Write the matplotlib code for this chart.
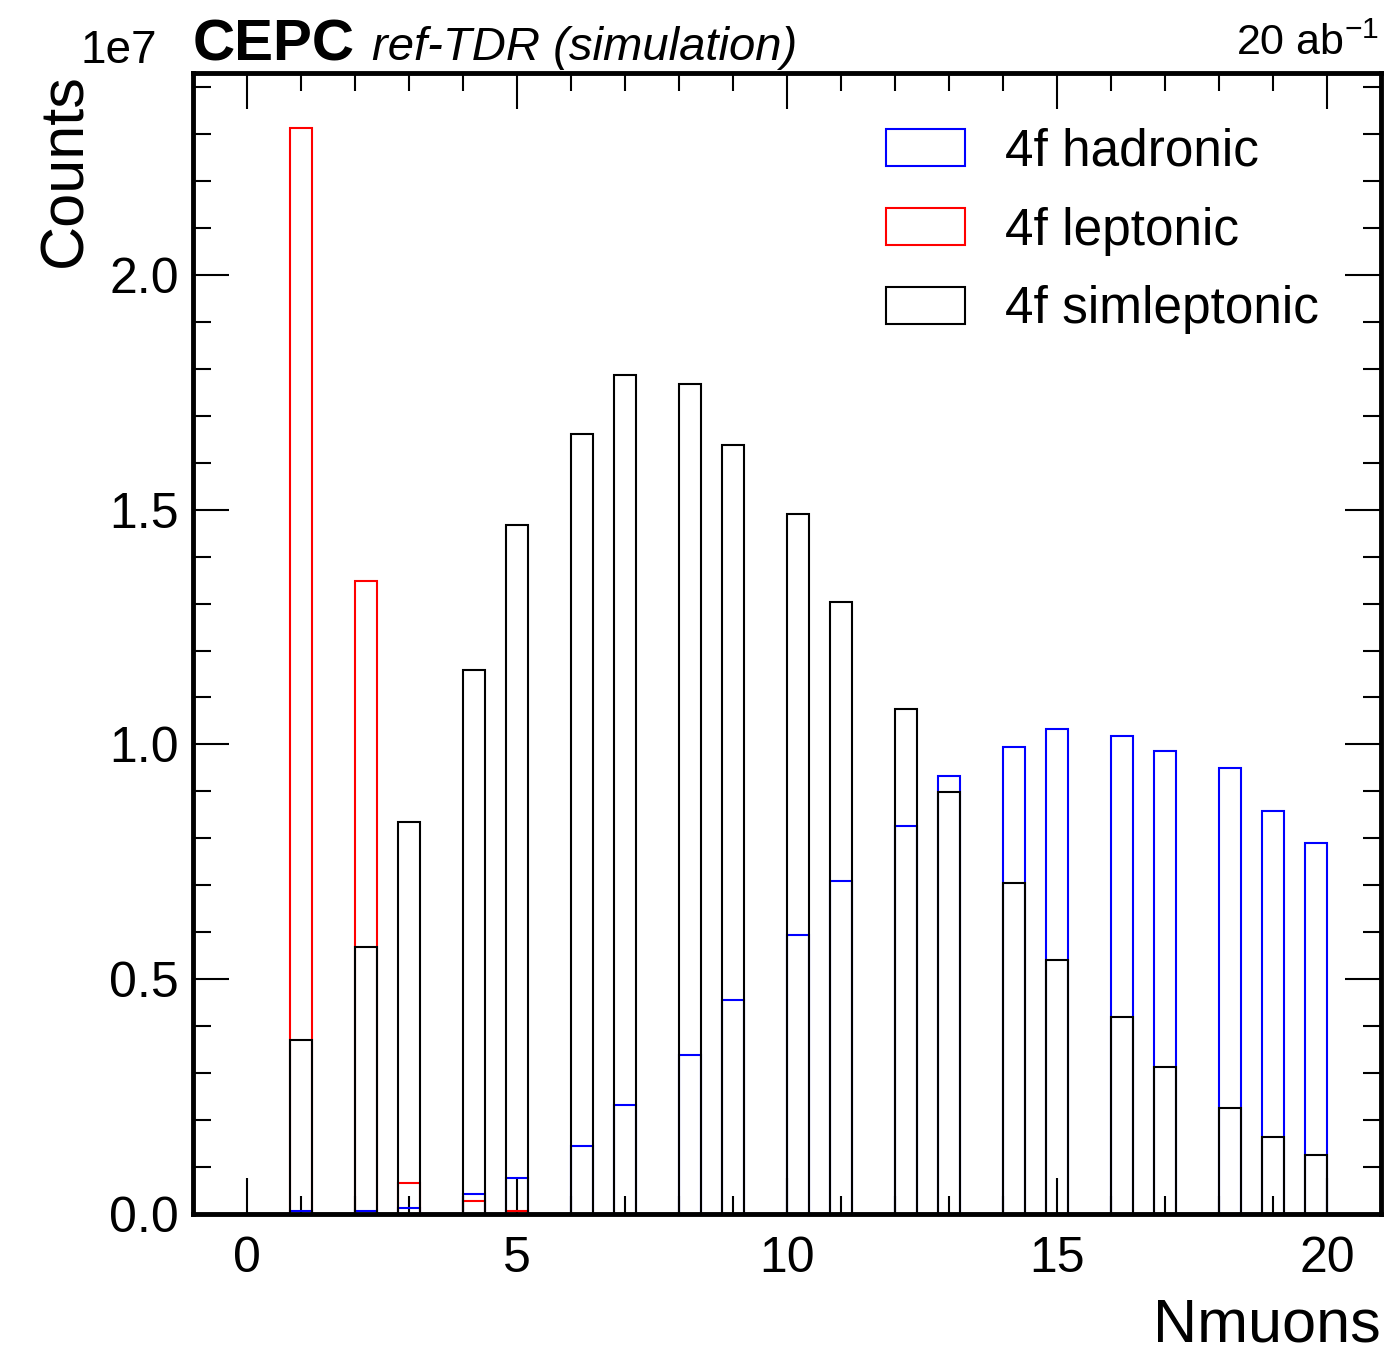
import numpy as np
import matplotlib
matplotlib.use("Agg")
import matplotlib.pyplot as plt
from matplotlib.ticker import MultipleLocator

plt.rcParams['font.family'] = ['Liberation Sans', 'DejaVu Sans']
plt.rcParams['mathtext.fontset'] = 'custom'
plt.rcParams['mathtext.rm'] = 'Liberation Sans'
plt.rcParams['mathtext.it'] = 'Liberation Sans:italic'

# Data: counts per number of muons
nmuons = np.arange(1, 21)
hadronic = [0.006e7, 0.006e7, 0.013e7, 0.042e7, 0.076e7, 0.145e7, 0.232e7, 0.339e7,
            0.456e7, 0.594e7, 0.709e7, 0.826e7, 0.933e7, 0.995e7, 1.033e7, 1.018e7,
            0.986e7, 0.950e7, 0.858e7, 0.790e7]
leptonic = [2.313e7, 1.348e7, 0.067e7, 0.028e7, 0.006e7, 0, 0, 0, 0, 0,
            0, 0, 0, 0, 0, 0, 0, 0, 0, 0]
simleptonic = [0.371e7, 0.569e7, 0.835e7, 1.159e7, 1.468e7, 1.661e7, 1.787e7, 1.768e7,
               1.638e7, 1.491e7, 1.304e7, 1.076e7, 0.899e7, 0.705e7, 0.541e7, 0.420e7,
               0.313e7, 0.226e7, 0.164e7, 0.126e7]
labels = ['4f hadronic', '4f leptonic', '4f simleptonic']
colors = ['blue', 'red', 'black']

bins = np.linspace(0, 20, 51)

fig = plt.figure(figsize=(13.84, 13.52), dpi=100)
ax = fig.add_axes([193/1384, 1 - 1214/1352, (1381 - 193)/1384, (1214 - 73)/1352])

for series, lab, col in zip([hadronic, leptonic, simleptonic], labels, colors):
    ax.hist(nmuons, bins=bins, weights=series, histtype='step', color=col,
            linewidth=1.5, label=lab)

ax.set_xlim(-1, 21)
ax.set_ylim(0, 2.43e7)

ax.xaxis.set_major_locator(MultipleLocator(5))
ax.xaxis.set_minor_locator(MultipleLocator(1))
ax.yaxis.set_major_locator(MultipleLocator(0.5e7))
ax.yaxis.set_minor_locator(MultipleLocator(0.1e7))
ax.tick_params(which='both', direction='in', top=True, right=True, width=1.5)
ax.tick_params(which='major', length=26, labelsize=36)
ax.tick_params(which='minor', length=13)
ax.tick_params(axis='x', which='major', pad=16)
ax.tick_params(axis='y', which='major', pad=10)
for sp in ax.spines.values():
    sp.set_linewidth(3.5)

# offset text "1e7" up-left of the axes
ax.yaxis.OFFSETTEXTPAD = 7.5
ax.yaxis.offsetText.set_fontsize(33)
ax.yaxis.offsetText.set_ha('right')
ax.yaxis.offsetText.set_x(-0.03)

ax.set_xlabel('Nmuons', fontsize=44, loc='right', labelpad=11)
ax.set_ylabel('Counts', fontsize=44, loc='top', labelpad=11)

ax.text(0.0, 1.011, 'CEPC', transform=ax.transAxes, fontsize=42,
        fontweight='bold', ha='left', va='baseline')
ax.text(0.1507, 1.011, 'ref-TDR (simulation)', transform=ax.transAxes,
        fontsize=34, style='italic', ha='left', va='baseline')
ax.text(0.998, 1.016, r'20 ab$^{-1}$', transform=ax.transAxes, fontsize=31,
        ha='right', va='baseline')

ax.legend(loc='upper left', bbox_to_anchor=(0.583, 0.952), frameon=False,
          fontsize=37, handlelength=1.54, handleheight=0.74, handletextpad=0.78,
          labelspacing=0.58, borderpad=0, borderaxespad=0)

fig.savefig('out.png', dpi=100)
